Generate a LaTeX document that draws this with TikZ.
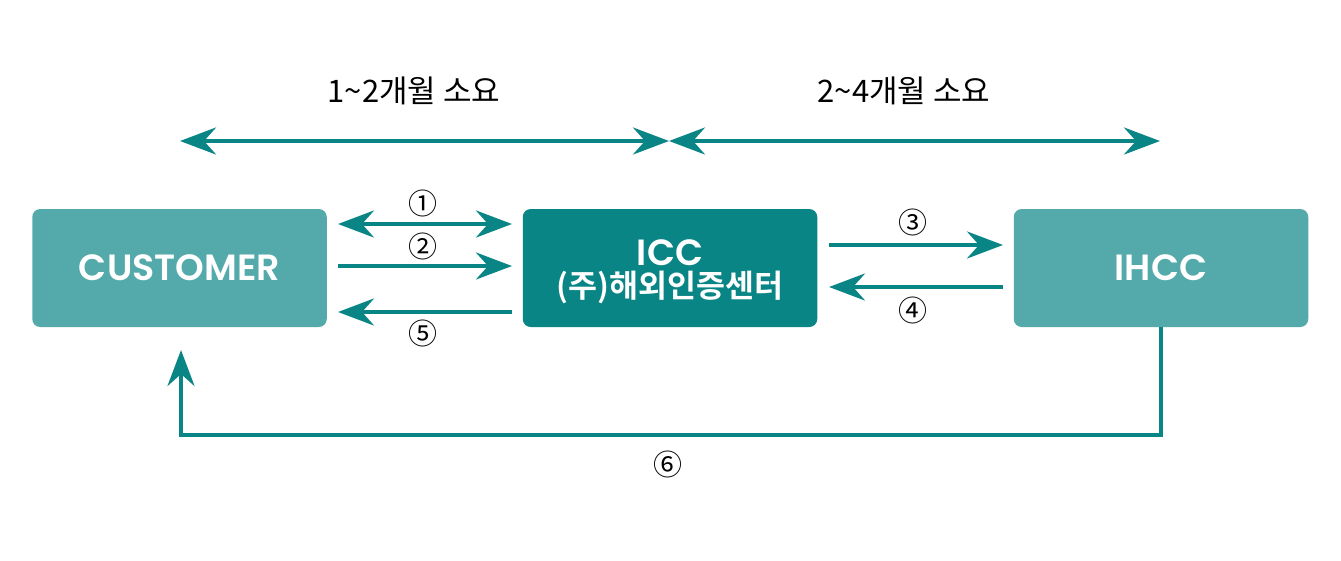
\documentclass[tikz,border=0pt]{standalone}
\usepackage{fontspec}
\newfontfamily\krfont{Noto Sans CJK KR}
\newfontfamily\krbold{Noto Sans CJK KR Bold}
\newfontfamily\latinbold{Poppins SemiBold}
\usetikzlibrary{arrows.meta,positioning}
\definecolor{icclight}{HTML}{54AAAA}
\definecolor{iccdark}{HTML}{0A8585}
\tikzset{
  box/.style={minimum width=294.5,minimum height=118,rounded corners=8,inner sep=0,align=center,text=white},
  arr/.style={draw=iccdark,line width=4,-{Stealth[inset=12,length=36,width=27]}},
  darr/.style={arr,{Stealth[inset=12,length=36,width=27]}-{Stealth[inset=12,length=36,width=27]}},
  num/.style={font=\krfont\fontsize{29}{29}\selectfont,inner sep=0},
  span/.style={font=\krfont\fontsize{31}{31}\selectfont,inner sep=0}
}
\begin{document}
\begin{tikzpicture}[x=1pt,y=-1pt]
\useasboundingbox (0,0) rectangle (1341,560);
\node[box,fill=icclight,font=\latinbold\fontsize{36.5}{36.5}\selectfont] (customer) at (179.5,268) {CUSTOMER};
\node[box,fill=iccdark] (icc) at (670,268) {\latinbold\fontsize{36.5}{36.5}\selectfont\rule{0pt}{33pt}ICC\\[5pt]\krbold\fontsize{31.5}{36}\selectfont (주)해외인증센터};
\node[box,fill=icclight,font=\latinbold\fontsize{36.5}{36.5}\selectfont] (ihcc) at (1161,268) {IHCC};
\node[span] (lefttime) at (414,91) {1\textasciitilde2개월 소요};
\node[span] (righttime) at (904,91) {2\textasciitilde4개월 소요};
\coordinate (topa) at (180,141);
\coordinate (topb) at (669,141);
\coordinate (topc) at (1160,141);
\draw[darr] (topa)--(topb);
\draw[darr] (topb)--(topc);
% customer and icc
\coordinate (onea) at (338,224);
\coordinate (oneb) at (512,224);
\coordinate (twoa) at (338,266);
\coordinate (twob) at (512,266);
\coordinate (fivea) at (512,312);
\coordinate (fiveb) at (338,312);
\draw[darr] (onea)--(oneb);
\draw[arr] (twoa)--(twob);
\draw[arr] (fivea)--(fiveb);
\node[num] (n1) at (423,203) {①};
\node[num] (n2) at (423,246) {②};
\node[num] (n5) at (423,333) {⑤};
% icc and ihcc
\coordinate (threea) at (829,245);
\coordinate (threeb) at (1003,245);
\coordinate (foura) at (1003,287);
\coordinate (fourb) at (829,287);
\draw[arr] (threea)--(threeb);
\draw[arr] (foura)--(fourb);
\node[num] (n3) at (913,222) {③};
\node[num] (n4) at (913,310) {④};
% way back
\coordinate (backend) at (181,350);
\draw[arr] (ihcc.south)--++(0,108)-|(backend);
\node[num] (n6) at (668,464) {⑥};
\end{tikzpicture}
\end{document}
